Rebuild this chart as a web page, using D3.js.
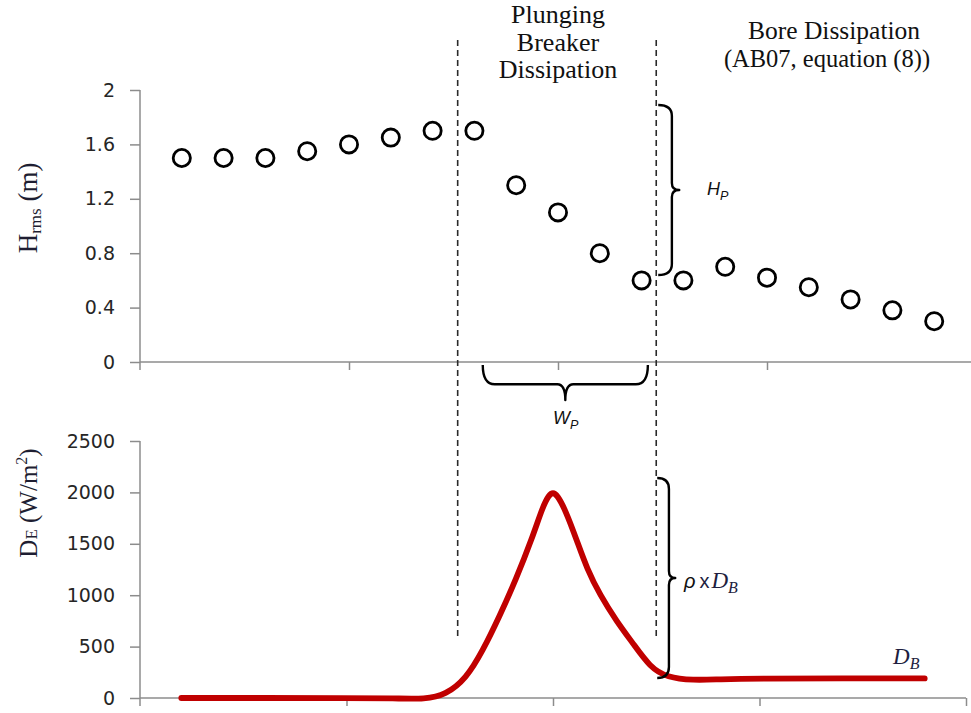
<!DOCTYPE html>
<html>
<head>
<meta charset="utf-8">
<script src="https://cdn.jsdelivr.net/npm/d3@7"></script>
<style>
  html, body { margin: 0; padding: 0; background: #fff; }
  svg { display: block; }
</style>
</head>
<body>
<svg id="chart" width="971" height="713"></svg>
<script>
// Cross-shore station index of each wave-height measurement
const stations = [1, 2, 3, 4, 5, 6, 7, 8, 9, 10, 11, 12, 13, 14, 15, 16, 17, 18, 19];
// Root-mean-square wave height (m)
const hrms = [1.5, 1.5, 1.5, 1.55, 1.6, 1.65, 1.7, 1.7, 1.3, 1.1, 0.8, 0.6, 0.6, 0.7, 0.62, 0.55, 0.46, 0.38, 0.3];

// Dissipation profile D_E (W/m^2) along the same station axis
const dissX = [1, 3, 5, 6.2, 6.9, 7.4, 7.9, 8.3, 8.7, 9.1, 9.5, 9.75, 9.9, 10.0, 10.1, 10.3, 10.58, 10.82, 11.14, 11.55, 11.94, 12.35, 12.76, 13.4, 14.0, 15.0, 17.0, 19.0];
const dissY = [0, 0, 0, -3, -12, 30, 190, 460, 790, 1150, 1560, 1860, 1975, 2000, 1975, 1830, 1530, 1260, 1000, 740, 530, 300, 200, 172, 182, 190, 190, 190];

// Axis ticks
const hTicks = [0, 0.4, 0.8, 1.2, 1.6, 2];
const dTicks = [0, 500, 1000, 1500, 2000, 2500];
const xTicksTop = [5, 10, 15];
const xTicksBottom = [5, 10, 15, 20];

// Zone boundaries (station units) and annotation extents
const zoneBounds = [7.6, 12.35];
const hpRange = [1.89, 0.64];
const wpRange = [8.2, 12.15];
const rhoRange = [2140, 195];

const svg = d3.select("#chart");
const axisColor = "#8c8c8c";
const textColor = "#262626";
const titleColor = "#1e1e32";

// Scales
const xTop = d3.scaleLinear().domain([0, 20]).range([140, 976]);
const yTop = d3.scaleLinear().domain([0, 2]).range([362, 90]);
const xBot = d3.scaleLinear().domain([0, 20]).range([140, 966]);
const yBot = d3.scaleLinear().domain([0, 2500]).range([698, 441]);

function styleAxis(g) {
  g.select(".domain").remove();
  g.selectAll(".tick line").attr("stroke", axisColor).attr("stroke-width", 1.5);
  g.selectAll(".tick text")
    .attr("fill", textColor)
    .style("font-family", "'DejaVu Sans', sans-serif")
    .style("font-size", "19px");
}

function drawPanel(x, y, yTickVals, xTickVals, xEnd) {
  const g = svg.append("g");
  g.append("g")
    .attr("transform", `translate(${x.range()[0]},0)`)
    .call(d3.axisLeft(y).tickValues(yTickVals).tickSize(10).tickPadding(15).tickSizeOuter(0)
      .tickFormat(d3.format("")))
    .call(styleAxis);
  g.append("g")
    .attr("transform", `translate(0,${y.range()[0]})`)
    .call(d3.axisBottom(x).tickValues(xTickVals).tickSize(8).tickFormat(""))
    .call(styleAxis);
  // axis lines
  g.append("line")
    .attr("x1", x.range()[0]).attr("x2", x.range()[0])
    .attr("y1", y.range()[1]).attr("y2", y.range()[0] + 8)
    .attr("stroke", axisColor).attr("stroke-width", 1.5);
  g.append("line")
    .attr("x1", x.range()[0]).attr("x2", xEnd)
    .attr("y1", y.range()[0]).attr("y2", y.range()[0])
    .attr("stroke", axisColor).attr("stroke-width", 1.5);
  return g;
}

drawPanel(xTop, yTop, hTicks, xTicksTop, 971);
drawPanel(xBot, yBot, dTicks, xTicksBottom, xBot(20));

// Zone boundaries
zoneBounds.forEach(b => {
  svg.append("line")
    .attr("x1", xTop(b)).attr("x2", xTop(b))
    .attr("y1", 40).attr("y2", 640)
    .attr("stroke", "#2a2a2a").attr("stroke-width", 1.6)
    .attr("stroke-dasharray", "6,4");
});

// Wave height markers
svg.append("g").selectAll("circle")
  .data(stations)
  .join("circle")
  .attr("cx", (d) => xTop(d))
  .attr("cy", (d, i) => yTop(hrms[i]))
  .attr("r", 8.6)
  .attr("fill", "#fff")
  .attr("stroke", "#000")
  .attr("stroke-width", 2.8);

// Dissipation curve
const line = d3.line()
  .x((d) => xBot(d[0]))
  .y((d) => yBot(d[1]))
  .curve(d3.curveBasis);
svg.append("path")
  .datum(dissX.map((v, i) => [v, dissY[i]]))
  .attr("d", line)
  .attr("fill", "none")
  .attr("stroke", "#c00000")
  .attr("stroke-width", 5.8)
  .attr("stroke-linecap", "round")
  .attr("stroke-linejoin", "round");

// Curly braces
function vBrace(x, y0, y1, w) {
  const ym = (y0 + y1) / 2, a = w * 0.65, r = 11;
  return `M${x},${y0} Q${x + a},${y0} ${x + a},${y0 + r} L${x + a},${ym - 7}` +
    ` Q${x + a},${ym} ${x + w},${ym} Q${x + a},${ym} ${x + a},${ym + 7}` +
    ` L${x + a},${y1 - r} Q${x + a},${y1} ${x},${y1}`;
}
function hBrace(x0, x1, y, h) {
  const xm = (x0 + x1) / 2, a = h * 0.55, r = 12;
  return `M${x0},${y} Q${x0},${y + a} ${x0 + r},${y + a} L${xm - 8},${y + a}` +
    ` Q${xm},${y + a} ${xm},${y + h} Q${xm},${y + a} ${xm + 8},${y + a}` +
    ` L${x1 - r},${y + a} Q${x1},${y + a} ${x1},${y}`;
}
const braceStyle = (p) => p.attr("fill", "none").attr("stroke", "#000")
  .attr("stroke-width", 2.4).attr("stroke-linejoin", "round");

svg.append("path").attr("d", vBrace(xTop(zoneBounds[1]) + 2, yTop(hpRange[0]), yTop(hpRange[1]), 21)).call(braceStyle);
svg.append("path").attr("d", hBrace(xTop(wpRange[0]), xTop(wpRange[1]), yTop(0) + 3, 35)).call(braceStyle);
svg.append("path").attr("d", vBrace(xTop(zoneBounds[1]) + 1, yBot(rhoRange[0]), yBot(rhoRange[1]), 18)).call(braceStyle);

// Annotation labels
const serif = "'Liberation Serif', 'Times New Roman', serif";
const sans = "'Liberation Sans', Arial, sans-serif";

function centredText(t, cx, y, size) {
  svg.append("text")
    .attr("x", cx).attr("y", y)
    .attr("text-anchor", "middle")
    .style("font-family", serif).style("font-size", size + "px")
    .attr("fill", "#111")
    .text(t);
}
centredText("Plunging", 558, 23, 26);
centredText("Breaker", 558, 50.5, 26);
centredText("Dissipation", 558, 78, 26);
centredText("Bore Dissipation", 834, 39, 25.5);
centredText("(AB07, equation (8))", 827, 67, 24.5);

function subLabel(x, y, main, sub, family, size, style) {
  const t = svg.append("text").attr("x", x).attr("y", y)
    .style("font-family", family).style("font-size", size + "px")
    .style("font-style", style).attr("fill", "#111");
  t.append("tspan").text(main);
  t.append("tspan").attr("dy", size * 0.3).style("font-size", (size * 0.7) + "px").text(sub);
  return t;
}
subLabel(707, 195, "H", "P", sans, 18, "italic");
subLabel(553, 424, "W", "P", sans, 18, "italic");

// rho x D_B label
const rho = svg.append("text").attr("x", 684).attr("y", 588)
  .style("font-size", "20px").attr("fill", "#111");
rho.append("tspan").style("font-family", sans).style("font-style", "italic").text("ρ");
rho.append("tspan").style("font-family", sans).attr("dx", 4).attr("fill", "#1e1e40").text("x");
rho.append("tspan").style("font-family", serif).style("font-style", "italic").attr("dx", 2)
  .attr("fill", "#1e1e40").style("font-size", "23px").text("D");
rho.append("tspan").style("font-family", serif).style("font-style", "italic").attr("dy", 5)
  .attr("fill", "#1e1e40").style("font-size", "16px").text("B");

const db = svg.append("text").attr("x", 893).attr("y", 664)
  .style("font-family", serif).style("font-style", "italic").attr("fill", "#1e1e40");
db.append("tspan").style("font-size", "23px").text("D");
db.append("tspan").attr("dy", 5).style("font-size", "16px").text("B");

// Axis titles
const t1 = svg.append("text")
  .attr("transform", `translate(37,208) rotate(-90)`)
  .attr("text-anchor", "middle")
  .style("font-family", serif).style("font-size", "27px").attr("fill", titleColor);
t1.append("tspan").text("H");
t1.append("tspan").attr("dy", 4).style("font-size", "17px").text("rms");
t1.append("tspan").attr("dy", -4).text(" (m)");

const t2 = svg.append("text")
  .attr("transform", `translate(37,503) rotate(-90)`)
  .attr("text-anchor", "middle")
  .style("font-family", serif).style("font-size", "25px").attr("fill", titleColor);
t2.append("tspan").text("D");
t2.append("tspan").style("font-size", "17px").text("E");
t2.append("tspan").text(" (W/m");
t2.append("tspan").attr("dy", -10).style("font-size", "16px").text("2");
t2.append("tspan").attr("dy", 10).text(")");
</script>
</body>
</html>
